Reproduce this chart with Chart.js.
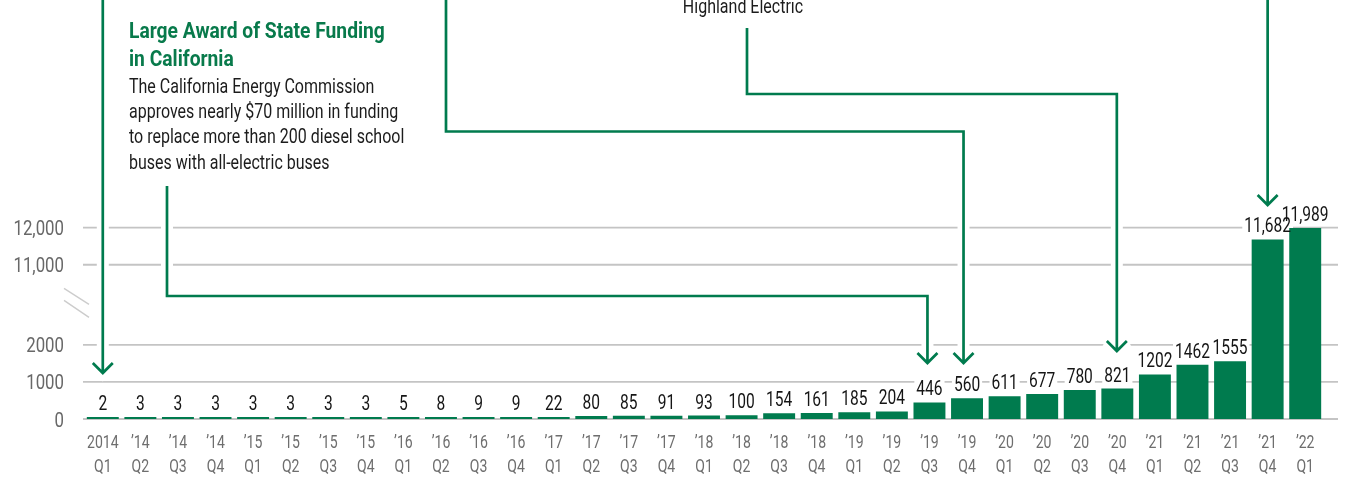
<!DOCTYPE html>
<html>
<head>
<meta charset="utf-8">
<title>Electric school buses by quarter</title>
<script src="https://cdn.jsdelivr.net/npm/chart.js@4.4.1/dist/chart.umd.min.js"></script>
<style>
  html, body { margin: 0; padding: 0; background: #ffffff; }
  #wrap { position: relative; width: 1346px; height: 479px; overflow: hidden; }
  #chart { position: absolute; left: 0; top: 0; }
  .note { position: absolute; font-family: Roboto, "Liberation Sans", sans-serif; white-space: nowrap; transform-origin: 0 0; }
  .note-title { left: 129px; top: 16.6px; font-size: 22px; line-height: 28.4px; font-weight: 700; color: #087a4b; transform: scaleX(0.875); }
  .note-body { left: 129px; top: 73.8px; font-size: 20px; line-height: 25.3px; color: #1c1c1c; transform: scaleX(0.8); }
  .note-top { left: 642.8px; width: 200px; top: -6.2px; font-size: 20px; line-height: 25.3px; color: #1c1c1c; text-align: center; transform: scaleX(0.8); transform-origin: 50% 0; }
</style>
</head>
<body>
<div id="wrap">
  <canvas id="chart" width="1346" height="479"></canvas>
  <div class="note note-top">Highland Electric</div>
  <div class="note note-title">Large Award of State Funding<br>in California</div>
  <div class="note note-body">The California Energy Commission<br>approves nearly $70 million in funding<br>to replace more than 200 diesel school<br>buses with all-electric buses</div>
</div>
<script>
// Quarter labels (two lines each) and cumulative electric school bus counts
const quarterYears = ['2014', '’14', '’14', '’14', '’15', '’15', '’15', '’15',
  '’16', '’16', '’16', '’16', '’17', '’17', '’17', '’17',
  '’18', '’18', '’18', '’18', '’19', '’19', '’19', '’19',
  '’20', '’20', '’20', '’20', '’21', '’21', '’21', '’21', '’22'];
const quarterNames = ['Q1', 'Q2', 'Q3', 'Q4', 'Q1', 'Q2', 'Q3', 'Q4',
  'Q1', 'Q2', 'Q3', 'Q4', 'Q1', 'Q2', 'Q3', 'Q4',
  'Q1', 'Q2', 'Q3', 'Q4', 'Q1', 'Q2', 'Q3', 'Q4',
  'Q1', 'Q2', 'Q3', 'Q4', 'Q1', 'Q2', 'Q3', 'Q4', 'Q1'];
const busCounts = [2, 3, 3, 3, 3, 3, 3, 3, 5, 8, 9, 9, 22, 80, 85, 91, 93, 100,
  154, 161, 185, 204, 446, 560, 611, 677, 780, 821, 1202, 1462, 1555, 11682, 11989];

// Value axis: ticks either side of the break
const yTickValues = [0, 1000, 2000, 11000, 12000];
const yTickLabels = ['0', '1000', '2000', '11,000', '12,000'];
const breakFrom = 2000;
const breakTo = 11000;

// Axis layout settings
const BREAK_GAP = 2160;   // scale units of empty space shown for the break
const TOP_VALUE = 12000;

const GREEN = '#007b4e';
const FONT = 'Roboto, "Liberation Sans", sans-serif';
const LABEL_FONT = '21px ' + FONT;
const LABEL_SX = 0.74;

function toVirtual(v) {
  if (v <= breakFrom) return v;
  if (v >= breakTo) return v - breakTo + breakFrom + BREAK_GAP;
  return breakFrom + (v - breakFrom) / (breakTo - breakFrom) * BREAK_GAP;
}
function fromVirtual(u) {
  if (u <= breakFrom) return u;
  if (u >= breakFrom + BREAK_GAP) return u - breakFrom - BREAK_GAP + breakTo;
  return breakFrom + (u - breakFrom) / BREAK_GAP * (breakTo - breakFrom);
}

// Linear scale with a collapsed section between breakFrom and breakTo
class BrokenLinearScale extends Chart.LinearScale {
  buildTicks() {
    return yTickValues.map(v => ({ value: v }));
  }
  getPixelForValue(value) {
    if (value === null || value === undefined) return NaN;
    return super.getPixelForValue(toVirtual(value));
  }
  getValueForPixel(pixel) {
    return fromVirtual(super.getValueForPixel(pixel));
  }
}
BrokenLinearScale.id = 'brokenLinear';
BrokenLinearScale.defaults = Chart.LinearScale.defaults;
Chart.register(BrokenLinearScale);

function formatCount(v) {
  return v >= 10000 ? v.toLocaleString('en-US') : String(v);
}

function narrowText(ctx, text, x, y, sx, align) {
  ctx.save();
  ctx.translate(x, y);
  ctx.scale(sx, 1);
  ctx.textAlign = align;
  ctx.fillText(text, 0, 0);
  ctx.restore();
}

// Gridlines, break marks, axis labels and the white backing under value labels
const axisPlugin = {
  id: 'axisDecor',
  beforeDatasetsDraw(chart) {
    const { ctx, chartArea, scales: { x, y } } = chart;
    ctx.save();
    ctx.strokeStyle = '#c4c4c4';
    ctx.lineWidth = 1.8;
    y.ticks.forEach((t, i) => {
      const py = y.getPixelForTick(i);
      ctx.beginPath();
      ctx.moveTo(chartArea.left - 1, py);
      ctx.lineTo(chartArea.right + 14, py);
      ctx.stroke();
    });
    // break marks
    const mid = (y.getPixelForValue(breakFrom) + y.getPixelForValue(breakTo)) / 2;
    ctx.strokeStyle = '#cccccc';
    ctx.lineWidth = 1.4;
    [[-16.5, -0.5], [-4.5, 12.5]].forEach(([a, b]) => {
      ctx.beginPath();
      ctx.moveTo(64, mid + a);
      ctx.lineTo(89, mid + b);
      ctx.stroke();
    });

    // value axis labels
    ctx.fillStyle = '#686868';
    ctx.font = '21px ' + FONT;
    ctx.textBaseline = 'alphabetic';
    y.ticks.forEach((t, i) => {
      const py = y.getPixelForTick(i);
      narrowText(ctx, yTickLabels[i], 64, py + 7.5, 0.8, 'right');
    });

    // category labels
    ctx.fillStyle = '#6e6e6e';
    ctx.font = '19px ' + FONT;
    chart.data.labels.forEach((lab, i) => {
      const px = x.getPixelForValue(i);
      narrowText(ctx, lab[0], px, chartArea.bottom + 28.5, 0.74, 'center');
      narrowText(ctx, lab[1], px, chartArea.bottom + 53, 0.74, 'center');
    });

    // white backing for value labels (bars are drawn over it)
    const meta = chart.getDatasetMeta(0);
    const data = chart.data.datasets[0].data;
    ctx.font = LABEL_FONT;
    ctx.fillStyle = '#ffffff';
    meta.data.forEach((bar, i) => {
      const w = ctx.measureText(formatCount(data[i])).width * LABEL_SX;
      const base = bar.y - 7;
      ctx.fillRect(bar.x - w / 2 - 2, base - 18, w + 4, 21);
    });
    ctx.restore();
  }
};

// Value labels above bars
const valueLabelPlugin = {
  id: 'valueLabels',
  afterDatasetsDraw(chart) {
    const { ctx } = chart;
    const meta = chart.getDatasetMeta(0);
    const data = chart.data.datasets[0].data;
    ctx.save();
    ctx.font = LABEL_FONT;
    ctx.textBaseline = 'alphabetic';
    ctx.fillStyle = '#151515';
    meta.data.forEach((bar, i) => {
      narrowText(ctx, formatCount(data[i]), bar.x, bar.y - 7, LABEL_SX, 'center');
    });
    ctx.restore();
  }
};

// Callout connectors: elbow route ending in a chevron above a bar
const callouts = [
  { bar: 0, dx: 0, tipY: 373, startY: 0, route: [] },
  { bar: 22, dx: -2, tipY: 363, route: [[167, 186], [167, 296]] },
  { bar: 23, dx: -3.5, tipY: 363, route: [[446, 0], [446, 131.5]] },
  { bar: 27, dx: -0.5, tipY: 351, route: [[747, 28], [747, 94]] },
  { bar: 31, dx: 0, tipY: 205, startY: 0, route: [] }
];

const calloutPlugin = {
  id: 'callouts',
  afterDraw(chart) {
    const { ctx, scales: { x } } = chart;
    const paths = callouts.map(c => {
      const tx = x.getPixelForValue(c.bar) + c.dx;
      let pts;
      if (c.route.length) {
        const last = c.route[c.route.length - 1];
        pts = c.route.concat([[tx, last[1]], [tx, c.tipY]]);
      } else {
        pts = [[tx, c.startY], [tx, c.tipY]];
      }
      return { pts, tx, tipY: c.tipY };
    });
    function trace(p) {
      ctx.beginPath();
      p.pts.forEach(([px, py], i) => (i ? ctx.lineTo(px, py) : ctx.moveTo(px, py)));
      ctx.moveTo(p.tx - 10, p.tipY - 10);
      ctx.lineTo(p.tx, p.tipY);
      ctx.lineTo(p.tx + 10, p.tipY - 10);
    }
    ctx.save();
    ctx.lineJoin = 'miter';
    ctx.lineCap = 'butt';
    ctx.strokeStyle = '#ffffff';
    ctx.lineWidth = 12;
    paths.forEach(p => { trace(p); ctx.stroke(); });
    ctx.strokeStyle = GREEN;
    ctx.lineWidth = 2.7;
    paths.forEach(p => { trace(p); ctx.stroke(); });
    ctx.restore();
  }
};

new Chart(document.getElementById('chart'), {
  type: 'bar',
  data: {
    labels: quarterYears.map((yr, i) => [yr, quarterNames[i]]),
    datasets: [{
      data: busCounts,
      backgroundColor: GREEN,
      borderWidth: 0,
      barPercentage: 0.85,
      categoryPercentage: 1.0,
      minBarLength: 2
    }]
  },
  options: {
    responsive: false,
    animation: false,
    devicePixelRatio: 1,
    layout: { padding: { left: 84, right: 22, top: 227.7, bottom: 60 } },
    plugins: { legend: { display: false }, tooltip: { enabled: false } },
    scales: {
      x: { type: 'category', display: false, offset: true },
      y: {
        type: 'brokenLinear',
        display: false,
        min: 0,
        max: toVirtual(TOP_VALUE),
        ticks: { callback: (v, i) => yTickLabels[i] }
      }
    }
  },
  plugins: [axisPlugin, valueLabelPlugin, calloutPlugin]
});
</script>
</body>
</html>
